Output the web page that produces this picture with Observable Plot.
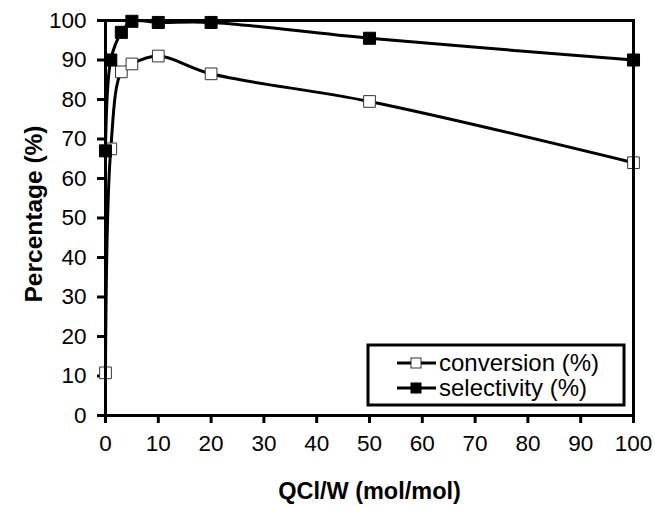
<!DOCTYPE html>
<html>
<head>
<meta charset="utf-8">
<script src="https://cdn.jsdelivr.net/npm/d3@7"></script>
<script src="https://cdn.jsdelivr.net/npm/@observablehq/plot@0.6"></script>
<style>
  html, body { margin: 0; padding: 0; background: #fff; }
  #chart { position: relative; width: 655px; height: 506px; }
</style>
</head>
<body>
<div id="chart"></div>
<script>
const ratio = [0, 1, 3, 5, 10, 20, 50, 100];
const conversion = [10.8, 67.5, 87, 89, 91, 86.5, 79.5, 64];
const selectivity = [67, 90, 97, 99.8, 99.5, 99.5, 95.5, 90];
const xTicks = [0, 10, 20, 30, 40, 50, 60, 70, 80, 90, 100];
const yTicks = [0, 10, 20, 30, 40, 50, 60, 70, 80, 90, 100];
const seriesNames = ["conversion (%)", "selectivity (%)"];
const xTitle = "QCl/W (mol/mol)";
const yTitle = "Percentage (%)";

const convData = ratio.map((x, i) => ({x, y: conversion[i]}));
const selData = ratio.map((x, i) => ({x, y: selectivity[i]}));

const font = "'Liberation Sans', Arial, sans-serif";

const plot = Plot.plot({
  width: 655,
  height: 506,
  marginLeft: 105,
  marginRight: 22,
  marginTop: 20,
  marginBottom: 91,
  style: {fontFamily: font, fontSize: "22.5px", color: "black", background: "white", overflow: "visible"},
  x: {domain: [0, 100]},
  y: {domain: [0, 100]},
  marks: [
    Plot.axisX({ticks: xTicks, tickSize: 8, tickPadding: 12, strokeWidth: 3, fontSize: 22.5, label: null, tickFormat: d => d}),
    Plot.axisY({ticks: yTicks, tickSize: 8, tickPadding: 11, strokeWidth: 3, fontSize: 22.5, label: null, tickFormat: d => d}),
    Plot.line(convData, {x: "x", y: "y", curve: "catmull-rom", stroke: "black", strokeWidth: 3}),
    Plot.line(selData, {x: "x", y: "y", curve: "catmull-rom", stroke: "black", strokeWidth: 3}),
    Plot.dot(convData, {x: "x", y: "y", symbol: "square", r: 6.6, fill: "white", stroke: "#333", strokeWidth: 1}),
    Plot.dot(selData, {x: "x", y: "y", symbol: "square", r: 6.8, fill: "black", stroke: "black", strokeWidth: 1}),
    Plot.frame({stroke: "black", strokeWidth: 3}),
    Plot.text([xTitle], {frameAnchor: "bottom", dy: 76, textAnchor: "middle", lineAnchor: "middle", text: d => d, fontSize: 23.5, fontWeight: "bold", fill: "black"}),
    Plot.text([yTitle], {frameAnchor: "left", dx: -71, dy: -4, rotate: -90, textAnchor: "middle", lineAnchor: "middle", text: d => d, fontSize: 24.5, fontWeight: "bold", fill: "black"})
  ]
});

document.getElementById("chart").appendChild(plot);

// Legend inside plot area
const svg = d3.select(plot);
const lg = svg.append("g").attr("font-family", font).attr("font-size", 24).attr("text-anchor", "start");
lg.append("rect").attr("x", 368).attr("y", 345).attr("width", 256).attr("height", 60)
  .attr("fill", "white").attr("stroke", "black").attr("stroke-width", 3);
const rows = [
  {name: seriesNames[0], fill: "white", stroke: "#333", sw: 1, y: 363},
  {name: seriesNames[1], fill: "black", stroke: "black", sw: 1, y: 388}
];
rows.forEach(r => {
  lg.append("line").attr("x1", 397).attr("x2", 436).attr("y1", r.y).attr("y2", r.y)
    .attr("stroke", "black").attr("stroke-width", 3);
  lg.append("rect").attr("x", 411).attr("y", r.y - 5).attr("width", 10).attr("height", 10)
    .attr("fill", r.fill).attr("stroke", r.stroke).attr("stroke-width", r.sw);
  lg.append("text").attr("x", 439).attr("y", r.y).attr("dy", "0.35em")
    .attr("text-anchor", "start").attr("fill", "black").text(r.name);
});
</script>
</body>
</html>
